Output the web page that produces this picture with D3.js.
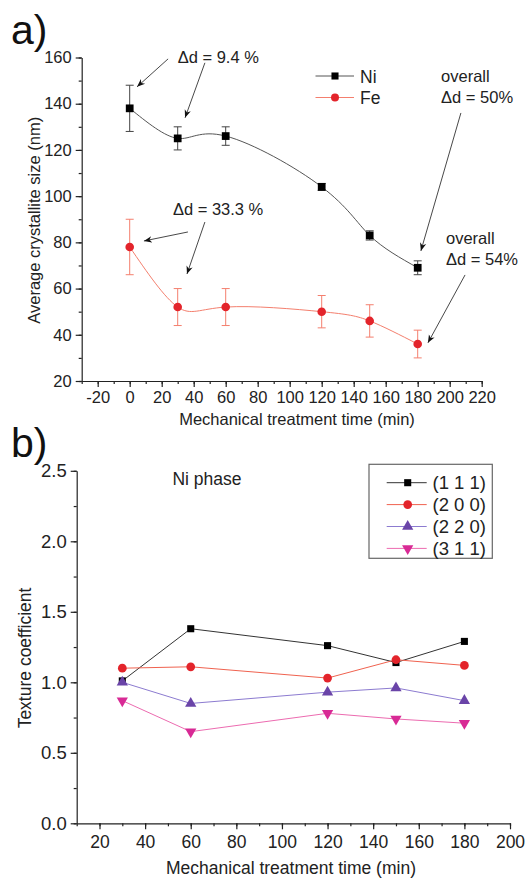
<!DOCTYPE html>
<html lang="en">
<head>
  <meta charset="UTF-8"/>
  <title>Crystallite size and texture coefficient</title>
  <script src="https://d3js.org/d3.v7.min.js"></script>
</head>
<body>
  <svg id="chart" width="525" height="879"></svg>
<style>
body {
  margin: 0;
  background: #fff;
}

svg {
  display: block;
  font-family: 'Liberation Sans', Arial, sans-serif;
}

.axis path,
.axis line {
  stroke: #222;
  stroke-width: 1.2;
}

.axis text {
  fill: #222;
}

text.panel {
  font-size: 41px;
  fill: #111;
}

text.label {
  font-size: 16.5px;
  fill: #222;
}

text.note {
  font-size: 16.5px;
  fill: #222;
}
</style>

<script>
// ---- panel a) data ----
const timesA = [0, 30, 60, 120, 150, 180];
const niSize = [138, 125, 126, 104, 83, 69];
const niErr = [10, 5, 4, 1.5, 2, 3];
const feSize = [78, 52, 52, 50, 46, 36];
const feErr = [12, 8, 8, 7, 7, 6];
const xTicksA = d3.range(-20, 221, 20);
const yTicksA = d3.range(20, 161, 20);

// annotation texts (data coords) and arrows [x1, y1, x2, y2]
const notes = [
  {lines: ['\u0394d = 9.4 %'], x: 30, y: 157.7},
  {lines: ['\u0394d = 33.3 %'], x: 27, y: 91.9},
  {lines: ['overall', '\u0394d = 50%'], x: 194.6, y: 149.4},
  {lines: ['overall', '\u0394d = 54%'], x: 197.7, y: 79.3}
];
const arrows = [
  [24, 159.4, 4.6, 147.3],
  [47, 157.7, 34.6, 133.9],
  [36.4, 84.5, 8.9, 80.6],
  [47, 88.8, 35.8, 66.3],
  [207, 136, 182, 76.3],
  [209.6, 65.9, 186.4, 36.5]
];

// ---- panel b) data ----
const timesB = [30, 60, 120, 150, 180];
const tc111 = [1.01, 1.38, 1.26, 1.14, 1.29];
const tc200 = [1.10, 1.11, 1.03, 1.16, 1.12];
const tc220 = [1.00, 0.85, 0.93, 0.96, 0.87];
const tc311 = [0.87, 0.65, 0.78, 0.74, 0.71];
const seriesNames = ['(1 1 1)', '(2 0 0)', '(2 2 0)', '(3 1 1)'];
const xTicksB = d3.range(20, 201, 20);
const yTicksB = [0, 0.5, 1.0, 1.5, 2.0, 2.5];

const svg = d3.select('#chart');

const defs = svg.append('defs');
defs.append('marker')
  .attr('id', 'head')
  .attr('viewBox', '0 0 10 10')
  .attr('refX', 10).attr('refY', 5)
  .attr('markerWidth', 8).attr('markerHeight', 8)
  .attr('markerUnits', 'userSpaceOnUse')
  .attr('orient', 'auto')
  .append('path')
  .attr('d', 'M0,1 L10,5 L0,9 L3,5 Z')
  .attr('fill', '#111');

// ================= panel a =================
const xA = d3.scaleLinear().domain([-30, 220]).range([81.7, 481.7]);
const yA = d3.scaleLinear().domain([20, 160]).range([381, 57.5]);

// minor ticks first
svg.append('g').attr('class', 'axis')
  .attr('transform', `translate(0,${yA(20)})`)
  .call(d3.axisBottom(xA).tickValues(d3.range(-30, 221, 10)).tickSize(3).tickFormat(''))
  .select('.domain').remove();
svg.append('g').attr('class', 'axis')
  .attr('transform', `translate(${xA(-30)},0)`)
  .call(d3.axisLeft(yA).tickValues(d3.range(20, 161, 10)).tickSize(3).tickFormat(''))
  .select('.domain').remove();

svg.append('g').attr('class', 'axis')
  .attr('transform', `translate(0,${yA(20)})`)
  .call(d3.axisBottom(xA).tickValues(xTicksA).tickSize(6).tickSizeOuter(0).tickPadding(4).tickFormat(d => String(d)))
  .selectAll('text').style('font-size', '16.5px');
svg.append('g').attr('class', 'axis')
  .attr('transform', `translate(${xA(-30)},0)`)
  .call(d3.axisLeft(yA).tickValues(yTicksA).tickSize(6).tickSizeOuter(0).tickPadding(4))
  .selectAll('text').style('font-size', '16.5px');

svg.append('text').attr('class', 'panel').attr('x', 11).attr('y', 44).text('a)');

svg.append('text').attr('class', 'label')
  .attr('text-anchor', 'middle')
  .attr('transform', `translate(40,${(yA(20) + yA(160)) / 2 + 1}) rotate(-90)`)
  .text('Average crystallite size (nm)');
svg.append('text').attr('class', 'label')
  .attr('text-anchor', 'middle')
  .attr('x', 297).attr('y', 425)
  .text('Mechanical treatment time (min)');

const seriesA = [
  {vals: niSize, err: niErr, line: '#555', bar: '#444', fill: '#000', shape: 'square'},
  {vals: feSize, err: feErr, line: '#f47f6e', bar: '#f47f6e', fill: '#e3242b', shape: 'circle'}
];

seriesA.forEach(s => {
  const pts = timesA.map((t, i) => [t, s.vals[i], s.err[i]]);
  svg.append('path')
    .datum(pts)
    .attr('fill', 'none')
    .attr('stroke', s.line)
    .attr('stroke-width', 1)
    .attr('d', d3.line().x(d => xA(d[0])).y(d => yA(d[1])).curve(d3.curveNatural));

  const eb = svg.append('g').attr('stroke', s.bar).attr('stroke-width', 1);
  pts.forEach(d => {
    const x = xA(d[0]);
    eb.append('line').attr('x1', x).attr('x2', x).attr('y1', yA(d[1] - d[2])).attr('y2', yA(d[1] + d[2]));
    eb.append('line').attr('x1', x - 4).attr('x2', x + 4).attr('y1', yA(d[1] - d[2])).attr('y2', yA(d[1] - d[2]));
    eb.append('line').attr('x1', x - 4).attr('x2', x + 4).attr('y1', yA(d[1] + d[2])).attr('y2', yA(d[1] + d[2]));
  });

  const sym = d3.symbol().type(s.shape === 'square' ? d3.symbolSquare : d3.symbolCircle).size(s.shape === 'square' ? 60 : 58);
  svg.append('g').selectAll('path').data(pts).join('path')
    .attr('transform', d => `translate(${xA(d[0])},${yA(d[1])})`)
    .attr('d', sym)
    .attr('fill', s.fill);
});

// legend a
const legA = [
  {name: 'Ni', line: '#555', fill: '#000', type: d3.symbolSquare, size: 50},
  {name: 'Fe', line: '#f47f6e', fill: '#e3242b', type: d3.symbolCircle, size: 50}
];
legA.forEach((d, i) => {
  const y = 76 + i * 21.5;
  svg.append('line').attr('x1', 315.5).attr('x2', 354).attr('y1', y).attr('y2', y)
    .attr('stroke', d.line).attr('stroke-width', 1);
  svg.append('path').attr('transform', `translate(335,${y})`)
    .attr('d', d3.symbol().type(d.type).size(d.size)).attr('fill', d.fill);
  svg.append('text').attr('class', 'note').attr('x', 360).attr('y', y + 6.5)
    .style('font-size', '17.5px').text(d.name);
});

// annotations
notes.forEach(n => {
  const t = svg.append('text').attr('class', 'note')
    .attr('x', xA(n.x)).attr('y', yA(n.y));
  n.lines.forEach((l, i) => {
    t.append('tspan').attr('x', xA(n.x)).attr('dy', i === 0 ? 0 : 21.5).text(l);
  });
});
svg.append('g').selectAll('line').data(arrows).join('line')
  .attr('x1', d => xA(d[0])).attr('y1', d => yA(d[1]))
  .attr('x2', d => xA(d[2])).attr('y2', d => yA(d[3]))
  .attr('stroke', '#333').attr('stroke-width', 0.9)
  .attr('marker-end', 'url(#head)');

// ================= panel b =================
const xB = d3.scaleLinear().domain([10, 200]).range([76.7, 510]);
const yB = d3.scaleLinear().domain([0, 2.5]).range([823.3, 470.8]);

svg.append('g').attr('class', 'axis')
  .attr('transform', `translate(0,${yB(0)})`)
  .call(d3.axisBottom(xB).tickValues(d3.range(10, 201, 10)).tickSize(3).tickFormat(''))
  .select('.domain').remove();
svg.append('g').attr('class', 'axis')
  .attr('transform', `translate(${xB(10)},0)`)
  .call(d3.axisLeft(yB).tickValues(d3.range(0, 2.51, 0.25)).tickSize(3).tickFormat(''))
  .select('.domain').remove();

svg.append('g').attr('class', 'axis')
  .attr('transform', `translate(0,${yB(0)})`)
  .call(d3.axisBottom(xB).tickValues(xTicksB).tickSize(6).tickSizeOuter(0).tickPadding(6))
  .selectAll('text').style('font-size', '17.5px');
svg.append('g').attr('class', 'axis')
  .attr('transform', `translate(${xB(10)},0)`)
  .call(d3.axisLeft(yB).tickValues(yTicksB).tickSize(6).tickSizeOuter(0).tickPadding(4).tickFormat(d3.format('.1f')))
  .selectAll('text').style('font-size', '18.5px');

svg.append('text').attr('class', 'panel').attr('x', 11).attr('y', 457).text('b)');

svg.append('text').attr('class', 'label')
  .attr('text-anchor', 'middle')
  .style('font-size', '17.5px')
  .attr('transform', `translate(31,658) rotate(-90)`)
  .text('Texture coefficient');
svg.append('text').attr('class', 'label')
  .attr('text-anchor', 'middle')
  .style('font-size', '17.5px')
  .attr('x', 291).attr('y', 874)
  .text('Mechanical treatment time (min)');

svg.append('text').attr('class', 'note')
  .attr('x', xB(52)).attr('y', yB(2.4))
  .style('font-size', '17.5px')
  .text('Ni phase');

const triDown = {
  draw(ctx, size) {
    const s = Math.sqrt(size / (Math.sqrt(3) / 4));
    const h = s * Math.sqrt(3) / 2;
    ctx.moveTo(-s / 2, -h / 3);
    ctx.lineTo(s / 2, -h / 3);
    ctx.lineTo(0, 2 * h / 3);
    ctx.closePath();
  }
};

const seriesB = [
  {vals: tc111, line: '#333', fill: '#000', type: d3.symbolSquare, size: 50},
  {vals: tc200, line: '#f0624f', fill: '#e3242b', type: d3.symbolCircle, size: 60},
  {vals: tc220, line: '#8c7bd0', fill: '#6a44a8', type: d3.symbolTriangle, size: 55},
  {vals: tc311, line: '#ec6bb0', fill: '#d82a95', type: triDown, size: 55}
];

seriesB.forEach(s => {
  const pts = timesB.map((t, i) => [t, s.vals[i]]);
  svg.append('path').datum(pts)
    .attr('fill', 'none').attr('stroke', s.line).attr('stroke-width', 1)
    .attr('d', d3.line().x(d => xB(d[0])).y(d => yB(d[1])));
});
seriesB.forEach(s => {
  const pts = timesB.map((t, i) => [t, s.vals[i]]);
  svg.append('g').selectAll('path').data(pts).join('path')
    .attr('transform', d => `translate(${xB(d[0])},${yB(d[1])})`)
    .attr('d', d3.symbol().type(s.type).size(s.size))
    .attr('fill', s.fill);
});

// legend b
svg.append('rect').attr('x', 369).attr('y', 464.3).attr('width', 123.3).attr('height', 94)
  .attr('fill', 'none').attr('stroke', '#666').attr('stroke-width', 1.2);
seriesB.forEach((s, i) => {
  const y = 482.7 + i * 21.9;
  svg.append('line').attr('x1', 386.7).attr('x2', 426.7).attr('y1', y).attr('y2', y)
    .attr('stroke', s.line).attr('stroke-width', 1);
  svg.append('path').attr('transform', `translate(407.7,${y})`)
    .attr('d', d3.symbol().type(s.type).size(s.size)).attr('fill', s.fill);
  svg.append('text').attr('class', 'note').attr('x', 432.5).attr('y', y + 6.5)
    .style('font-size', '18.5px').text(seriesNames[i]);
});
</script>
</body>
</html>
